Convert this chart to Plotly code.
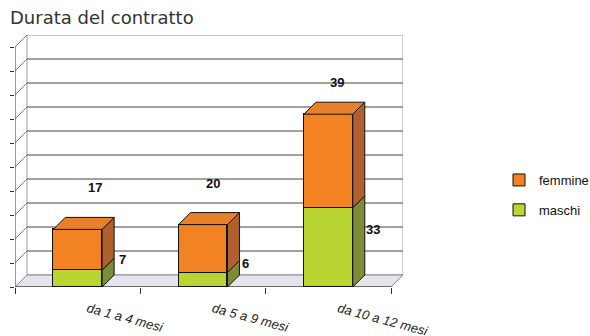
import plotly.graph_objects as go

# ---------------- data ----------------
categories = ["da 1 a 4 mesi", "da 5 a 9 mesi", "da 10 a 12 mesi"]
maschi = [7, 6, 33]
femmine = [17, 20, 39]
y_ticks = list(range(0, 101, 10))

# label placement (data units, relative to category index / value axis)
fem_label_dx = [0.14, 0.08, 0.07]
fem_label_y = [41.4, 43.1, 85.4]
mas_label_dx = [0.36, 0.34, 0.36]
mas_label_y = [11.3, 10.0, 23.8]

# ---------------- geometry ----------------
W, H = 590, 336
ML, MR, MT, MB = 15, 187, 35, 49
plot_w = W - ML - MR
plot_h = H - MT - MB
DEPTH = 12  # px, pseudo-3D depth
n = len(categories)
px_x = (plot_w - DEPTH) / n
y_max = y_ticks[-1]
px_y = (plot_h - DEPTH) / y_max
dx = DEPTH / px_x
dy = DEPTH / px_y
x_lo, x_hi = -0.5, n - 0.5
BW = 0.39

ORANGE = "#F38222"
ORANGE_SIDE = "#B0602F"
ORANGE_TOP = "#E9802A"
GREEN = "#B9D532"
GREEN_SIDE = "#7C8C37"

fig = go.Figure()

fig.add_trace(go.Bar(x=list(range(n)), y=maschi, name="maschi", width=BW,
                     marker=dict(color=GREEN, line=dict(color="#111", width=1)),
                     legendgroup="m", legendrank=2, hoverinfo="skip"))
fig.add_trace(go.Bar(x=list(range(n)), y=femmine, name="femmine", width=BW,
                     marker=dict(color=ORANGE, line=dict(color="#111", width=1)),
                     legendgroup="f", legendrank=1, hoverinfo="skip"))


def side_poly(i, y0, y1):
    x1 = i + BW / 2
    return ([x1, x1 + dx, x1 + dx, x1, x1, None],
            [y0, y0 + dy, y1 + dy, y1, y0, None])


def top_poly(i, y):
    x0, x1 = i - BW / 2, i + BW / 2
    return ([x0, x0 + dx, x1 + dx, x1, x0, None],
            [y, y + dy, y + dy, y, y, None])


def add_faces(polys, color):
    xs, ys = [], []
    for px_, py_ in polys:
        xs += px_
        ys += py_
    fig.add_trace(go.Scatter(x=xs, y=ys, mode="lines", fill="toself",
                             fillcolor=color, line=dict(color="#111", width=1),
                             showlegend=False, hoverinfo="skip"))


totals = [m + f for m, f in zip(maschi, femmine)]
add_faces([side_poly(i, 0, maschi[i]) for i in range(n)], GREEN_SIDE)
add_faces([side_poly(i, maschi[i], totals[i]) for i in range(n)], ORANGE_SIDE)
add_faces([top_poly(i, totals[i]) for i in range(n)], ORANGE_TOP)

# ---------------- walls / floor ----------------
shapes = []
# back wall
shapes.append(dict(type="rect", xref="x", yref="y", x0=x_lo + dx, x1=x_hi + dx,
                   y0=dy, y1=y_max + dy, fillcolor="white",
                   line=dict(color="#9a9a9a", width=1), layer="below"))
for t in y_ticks[1:-1]:
    shapes.append(dict(type="line", xref="x", yref="y", x0=x_lo + dx, x1=x_hi + dx,
                       y0=t + dy, y1=t + dy, line=dict(color="#444", width=1),
                       layer="below"))
# side wall
for t in y_ticks:
    shapes.append(dict(type="line", xref="x", yref="y", x0=x_lo, x1=x_lo + dx,
                       y0=t, y1=t + dy, line=dict(color="#777", width=1),
                       layer="below"))
shapes.append(dict(type="line", xref="x", yref="y", x0=x_lo, x1=x_lo,
                   y0=0, y1=y_max, line=dict(color="#333", width=1), layer="below"))
# floor
shapes.append(dict(type="path", xref="x", yref="y",
                   path=f"M {x_lo},0 L {x_hi},0 L {x_hi + dx},{dy} L {x_lo + dx},{dy} Z",
                   fillcolor="#E4E4EC", line=dict(color="#888", width=1), layer="below"))
shapes.append(dict(type="line", xref="x", yref="y", x0=x_lo, x1=x_hi, y0=0, y1=0,
                   line=dict(color="#222", width=1), layer="below"))

# ---------------- labels ----------------
annotations = []
lab_font = dict(family="Liberation Sans, Arial, sans-serif", size=13, color="#111")
for i in range(n):
    annotations.append(dict(x=i + fem_label_dx[i], y=fem_label_y[i], xref="x", yref="y",
                            text=f"<b>{femmine[i]}</b>", showarrow=False, font=lab_font))
    annotations.append(dict(x=i + mas_label_dx[i], y=mas_label_y[i], xref="x", yref="y",
                            text=f"<b>{maschi[i]}</b>", showarrow=False, font=lab_font))

fig.update_layout(
    width=W, height=H, margin=dict(l=ML, r=MR, t=MT, b=MB, autoexpand=False),
    paper_bgcolor="white", plot_bgcolor="rgba(0,0,0,0)",
    barmode="stack", bargap=0,
    shapes=shapes, annotations=annotations,
    title=dict(text="Durata del contratto", x=10 / W, xref="container", xanchor="left",
               y=1 - 18 / H, yref="container", yanchor="middle",
               font=dict(family="DejaVu Sans, sans-serif", size=18, color="#333")),
    legend=dict(x=(W + 4 - ML) / plot_w, xanchor="right", y=(plot_h + MT - 165) / plot_h,
                yanchor="top", traceorder="grouped", tracegroupgap=10,
                font=dict(family="Liberation Sans, Arial, sans-serif", size=13, color="#111"),
                bgcolor="rgba(0,0,0,0)"),
    showlegend=True,
    xaxis=dict(range=[x_lo, x_hi + dx], tickvals=list(range(n)), ticktext=categories,
               tickangle=15, ticks="", showgrid=False, zeroline=False, showline=False,
               ticklabelshift=10, ticklabelstandoff=11, automargin=False,
               tickfont=dict(family="Liberation Sans, Arial, sans-serif", size=13,
                             color="#222", style="italic"),
               minor=dict(tickvals=[x_lo + k for k in range(n + 1)], ticks="outside",
                          ticklen=6, tickcolor="#333", showgrid=False),
               fixedrange=True),
    yaxis=dict(range=[0, y_max + dy], tickvals=y_ticks, ticks="outside", ticklen=4,
               tickcolor="#333", showticklabels=False, showgrid=False, zeroline=False,
               showline=False, automargin=False, fixedrange=True),
)

fig.write_html("out.html")
